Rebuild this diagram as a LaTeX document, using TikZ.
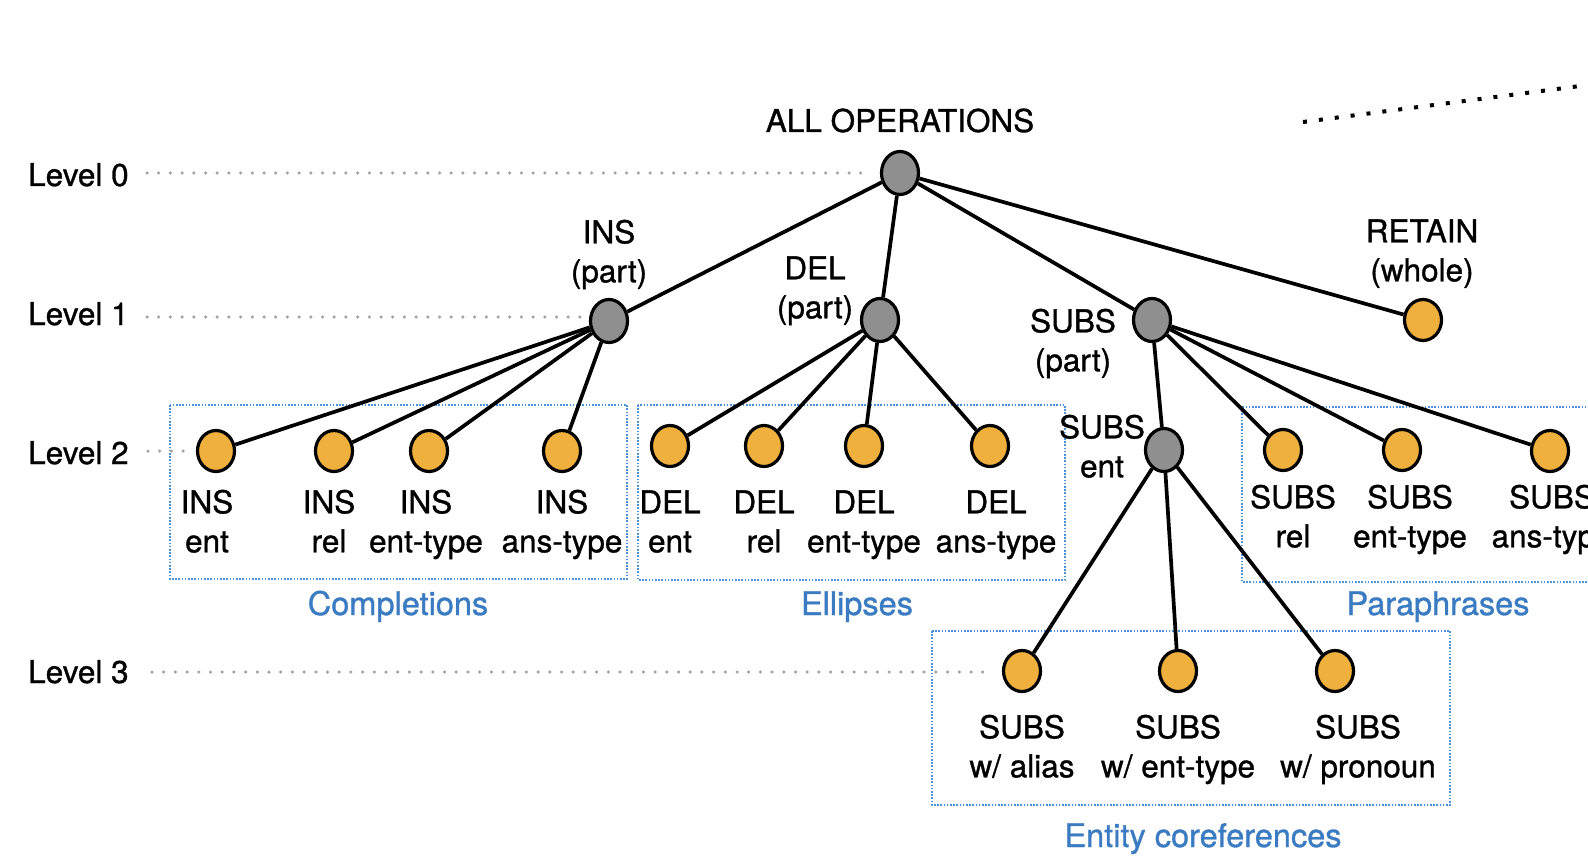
\documentclass[tikz,border=0pt]{standalone}
\usepackage{fontspec}
\setmainfont{TeX Gyre Heros}
\newfontfamily\heavyheros{TeX Gyre Heros}[FakeBold=1.0]
\usetikzlibrary{shapes.geometric}
\definecolor{nodeorange}{HTML}{F0B03E}
\definecolor{nodegray}{HTML}{8F8F8F}
\definecolor{boxblue}{HTML}{4A92DC}
\definecolor{textblue}{HTML}{3A7BC2}
\definecolor{dotgray}{HTML}{A3A3A3}
\newcommand\lblfont{\heavyheros\fontsize{31.5}{39}\selectfont}
\newcommand\grpfont{\heavyheros\fontsize{32.5}{39}\selectfont}
\begin{document}
\begin{tikzpicture}[x=1pt,y=-1pt,
  opnode/.style={ellipse, draw=black, line width=3.2pt, minimum width=37pt, minimum height=43pt, inner sep=0pt, fill=nodegray},
  leaf/.style={ellipse, draw=black, line width=3.2pt, minimum width=37pt, minimum height=41pt, inner sep=0pt, fill=nodeorange},
  lbl/.style={align=center, font=\lblfont, inner sep=0pt},
  grouplbl/.style={font=\grpfont, inner sep=0pt, text=textblue, anchor=base},
  levellbl/.style={font=\lblfont, inner sep=0pt, anchor=base west},
  levelline/.style={dotgray, line width=3.5pt, line cap=round, dash pattern=on 0pt off 11.7pt},
  groupbox/.style={boxblue, line width=1.6pt, dash pattern=on 1.6pt off 1.6pt},
  edge/.style={line width=3.7pt},
  topdots/.style={black, line width=4pt, dash pattern=on 4pt off 12pt}]
\useasboundingbox (0,0) rectangle (1588,861);
\clip (0,0) rectangle (1588,861);

% group boxes
\draw[groupbox] (170,405) rectangle (627,579);
\draw[groupbox] (638,405) rectangle (1065,580);
\draw[groupbox] (1242,407) rectangle (1620,582);
\draw[groupbox] (932,631) rectangle (1450,805);

% level labels and dotted guide lines
\node[levellbl] (lv0) at (28,186) {Level 0};
\node[levellbl] (lv1) at (28,325) {Level 1};
\node[levellbl] (lv2) at (28,464) {Level 2};
\node[levellbl] (lv3) at (28,683) {Level 3};
\coordinate (l0a) at (147,173); \coordinate (l0b) at (870,173);
\coordinate (l1a) at (147,317); \coordinate (l1b) at (585,317);
\coordinate (l2a) at (148,451); \coordinate (l2b) at (187,451);
\coordinate (l3a) at (152,672); \coordinate (l3b) at (993,672);
\draw[levelline] (l0a) -- (l0b);
\draw[levelline] (l1a) -- (l1b);
\draw[levelline] (l2a) -- (l2b);
\draw[levelline] (l3a) -- (l3b);

% top-right dotted line
\coordinate (ta) at (1303,122);
\coordinate (tb) at (1620,80.8);
\draw[topdots] (ta) -- (tb);

% level 0 and 1
\node[opnode] (root) at (900,173) {};
\node[lbl, anchor=base] (rootl) at (900,132) {ALL OPERATIONS};
\node[opnode] (ins) at (609,321) {};
\node[opnode] (del) at (880,320) {};
\node[opnode] (subs) at (1152,320) {};
\node[leaf] (retain) at (1423,320) {};
\node[lbl] (insl) at (609,255) {\strut INS\\\strut(part)};
\node[lbl] (dell) at (815,291) {\strut DEL\\\strut(part)};
\node[lbl] (subsl) at (1073,344) {\strut SUBS\\\strut(part)};
\node[lbl] (retl) at (1422,254) {\strut RETAIN\\\strut(whole)};

% level 2: INS
\node[leaf] (insent) at (216,451) {};
\node[leaf] (insrel) at (334,451) {};
\node[leaf] (insety) at (429,451) {};
\node[leaf] (insaty) at (562,451) {};
\node[lbl] (insentl) at (207,525) {\strut INS\\\strut ent};
\node[lbl] (insrell) at (329,525) {\strut INS\\\strut rel};
\node[lbl] (insetyl) at (426,525) {\strut INS\\\strut ent-type};
\node[lbl] (insatyl) at (562,525) {\strut INS\\\strut ans-type};

% level 2: DEL
\node[leaf] (delent) at (670,446) {};
\node[leaf] (delrel) at (764,446) {};
\node[leaf] (delety) at (864,446) {};
\node[leaf] (delaty) at (990,446) {};
\node[lbl] (delentl) at (670,525) {\strut DEL\\\strut ent};
\node[lbl] (delrell) at (764,525) {\strut DEL\\\strut rel};
\node[lbl] (deletyl) at (864,525) {\strut DEL\\\strut ent-type};
\node[lbl] (delatyl) at (996,525) {\strut DEL\\\strut ans-type};

% level 2: SUBS
\node[opnode] (subsent) at (1164,450) {};
\node[lbl] (subsentl) at (1102,450) {\strut SUBS\\\strut ent};
\node[leaf] (subsrel) at (1283,450) {};
\node[leaf] (subsety) at (1402,450) {};
\node[leaf] (subsaty) at (1550,451) {};
\node[lbl] (subsrell) at (1293,520) {\strut SUBS\\\strut rel};
\node[lbl] (subsetyl) at (1410,520) {\strut SUBS\\\strut ent-type};
\node[lbl] (subsatyl) at (1552,520) {\strut SUBS\\\strut ans-type};

% level 3
\node[leaf] (alias) at (1022,671) {};
\node[leaf] (wety) at (1178,671) {};
\node[leaf] (pron) at (1335,671) {};
\node[lbl] (aliasl) at (1022,750) {\strut SUBS\\\strut w/ alias};
\node[lbl] (wetyl) at (1178,750) {\strut SUBS\\\strut w/ ent-type};
\node[lbl] (pronl) at (1358,750) {\strut SUBS\\\strut w/ pronoun};

% group labels
\node[grouplbl] (gcomp) at (398,615) {Completions};
\node[grouplbl] (gell) at (857,615) {Ellipses};
\node[grouplbl] (gpara) at (1438,615) {Paraphrases};
\node[grouplbl] (gcoref) at (1203,847) {Entity coreferences};

% edges
\draw[edge] (root) -- (ins);
\draw[edge] (root) -- (del);
\draw[edge] (root) -- (subs);
\draw[edge] (root) -- (retain);
\foreach \t in {insent,insrel,insety,insaty} \draw[edge] (ins) -- (\t);
\foreach \t in {delent,delrel,delety,delaty} \draw[edge] (del) -- (\t);
\foreach \t in {subsent,subsrel,subsety,subsaty} \draw[edge] (subs) -- (\t);
\foreach \t in {alias,wety,pron} \draw[edge] (subsent) -- (\t);
\end{tikzpicture}
\end{document}
